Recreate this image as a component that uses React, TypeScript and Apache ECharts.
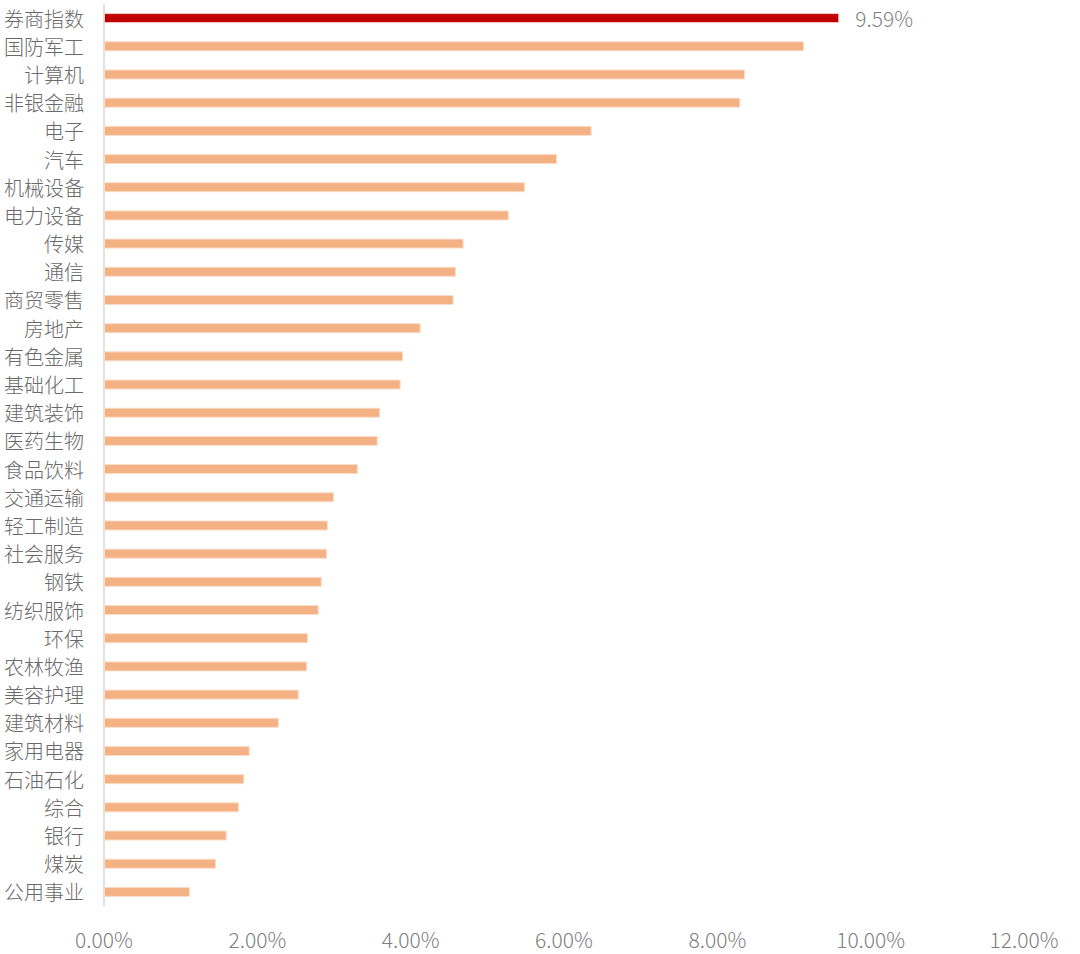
import React, { useEffect, useRef } from "react";
import * as echarts from "echarts";

const categories = [
  "券商指数", "国防军工", "计算机", "非银金融", "电子", "汽车", "机械设备", "电力设备",
  "传媒", "通信", "商贸零售", "房地产", "有色金属", "基础化工", "建筑装饰", "医药生物",
  "食品饮料", "交通运输", "轻工制造", "社会服务", "钢铁", "纺织服饰", "环保", "农林牧渔",
  "美容护理", "建筑材料", "家用电器", "石油石化", "综合", "银行", "煤炭", "公用事业",
];

const values = [
  9.59, 9.13, 8.36, 8.30, 6.36, 5.91, 5.49, 5.28,
  4.69, 4.59, 4.56, 4.13, 3.90, 3.87, 3.60, 3.57,
  3.31, 3.00, 2.92, 2.91, 2.84, 2.80, 2.66, 2.65,
  2.54, 2.28, 1.90, 1.83, 1.76, 1.60, 1.46, 1.12,
];

const xTicks = [0, 2, 4, 6, 8, 10, 12];

const FONT = "'Noto Sans CJK SC', 'Noto Sans', sans-serif";

export default function App() {
  const ref = useRef<HTMLDivElement>(null);
  useEffect(() => {
    if (!ref.current) return;
    const chart = echarts.init(ref.current, null, { renderer: "svg" });
    const data = values.map((v, i) => ({
      value: v,
      itemStyle:
        i === 0
          ? { color: "#C00000", borderColor: "#F6C9C0", borderWidth: 1 }
          : { color: "#F4B183", borderColor: "#FBDCC6", borderWidth: 1 },
      label:
        i === 0
          ? {
              show: true,
              position: "right",
              distance: 16,
              formatter: (p: any) => p.value.toFixed(2) + "%",
              color: "#7f7f7f",
              fontSize: 21,
              fontFamily: FONT,
              fontWeight: 300,
            }
          : { show: false },
    }));
    chart.setOption({
      animation: false,
      grid: { left: 104, right: 56, top: 4, bottom: 48, containLabel: false },
      xAxis: {
        type: "value",
        min: xTicks[0],
        max: xTicks[xTicks.length - 1],
        interval: 2,
        axisLine: { show: false },
        axisTick: { show: false },
        splitLine: { show: false },
        axisLabel: {
          margin: 22,
          color: "#808080",
          fontSize: 21,
          fontFamily: FONT,
          fontWeight: 300,
          formatter: (v: number) => v.toFixed(2) + "%",
        },
      },
      yAxis: {
        type: "category",
        inverse: true,
        data: categories,
        axisLine: { show: true, lineStyle: { color: "#d9d9d9", width: 1.5 } },
        axisTick: { show: false },
        axisLabel: {
          margin: 20,
          color: "#6a6a6a",
          fontSize: 20,
          fontFamily: FONT,
          fontWeight: 300,
        },
      },
      series: [
        {
          type: "bar",
          data,
          barWidth: 10,
        },
      ],
    });
    return () => chart.dispose();
  }, []);
  return <div ref={ref} style={{ width: 1080, height: 954, position: "absolute", left: 0, top: 0 }} />;
}
